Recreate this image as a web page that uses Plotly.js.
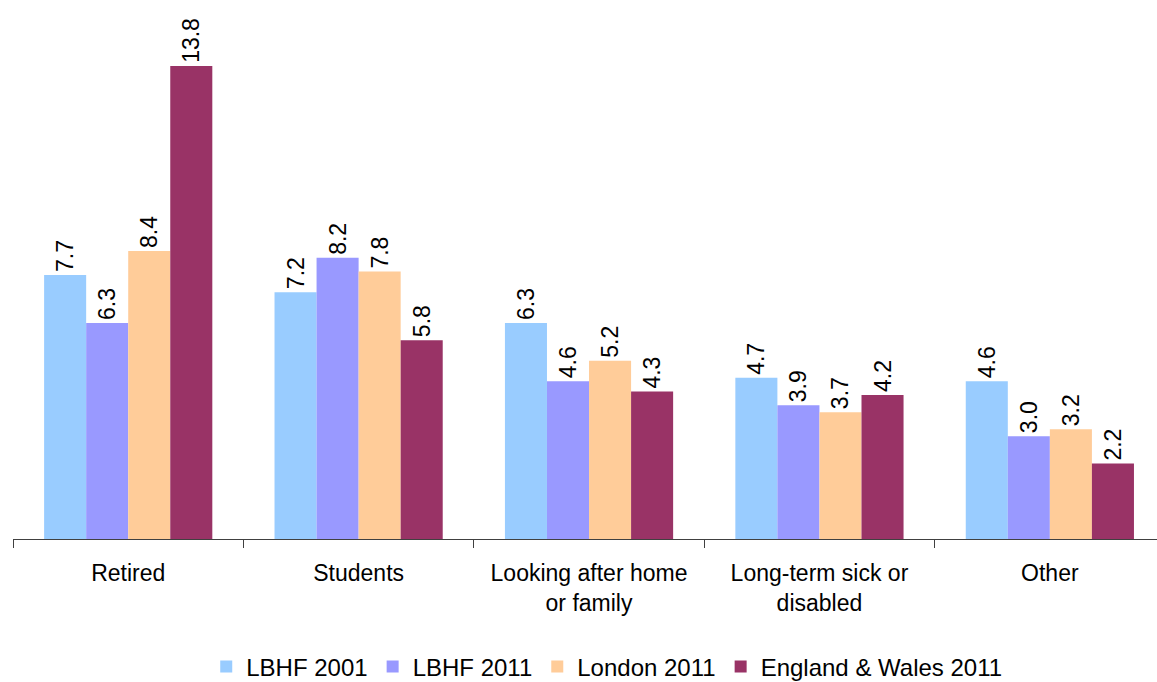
<!DOCTYPE html>
<html><head><meta charset="utf-8">
<script src="https://cdn.plot.ly/plotly-3.0.1.min.js"></script>
<style>body{margin:0;padding:0;background:#fff}#chart{width:1157px;height:682px}</style>
</head><body><div id="chart"></div>
<script>
const categories = ["Retired", "Students", "Looking after home<br>or family", "Long-term sick or<br>disabled", "Other"];
const seriesNames = ["LBHF 2001", "LBHF 2011", "London 2011", "England & Wales 2011"];
const lbhf2001 = [7.7, 7.2, 6.3, 4.7, 4.6];
const lbhf2011 = [6.3, 8.2, 4.6, 3.9, 3.0];
const london2011 = [8.4, 7.8, 5.2, 3.7, 3.2];
const englandWales2011 = [13.8, 5.8, 4.3, 4.2, 2.2];
const colors = ["#99CCFF", "#9999FF", "#FFCC99", "#993366"];

const allSeries = [lbhf2001, lbhf2011, london2011, englandWales2011];
const data = allSeries.map((vals, i) => ({
  type: "bar",
  name: seriesNames[i],
  x: categories,
  y: vals,
  marker: {color: colors[i]},
  text: vals.map(v => v.toFixed(1)),
  textposition: "outside",
  textangle: -90,
  cliponaxis: false,
  constraintext: "none",
  textfont: {family: "Liberation Sans, Arial, sans-serif", size: 23, color: "#000"},
  hoverinfo: "skip"
}));

const layout = {
  width: 1157, height: 682,
  margin: {l: 13, r: 0, t: 10, b: 143, autoexpand: false},
  paper_bgcolor: "#fff", plot_bgcolor: "#fff",
  barmode: "group",
  bargap: 0.27, bargroupgap: 0,
  font: {family: "Liberation Sans, Arial, sans-serif", size: 22, color: "#000"},
  xaxis: {
    type: "category",
    range: [-0.5, 4.465],
    tickson: "boundaries",
    ticks: "outside", ticklen: 8, tickcolor: "#404040", tickwidth: 1,
    showline: true, linecolor: "#404040", linewidth: 1,
    showgrid: false, zeroline: false,
    ticklabelstandoff: 13,
    tickfont: {size: 23, color: "#000"}
  },
  yaxis: {
    range: [0, 15.43],
    visible: false, showgrid: false, zeroline: false
  },
  showlegend: true,
  legend: {
    orientation: "h", x: 0.519, xanchor: "center", y: -0.242, yanchor: "middle",
    font: {size: 24, color: "#000"}, itemwidth: 30, traceorder: "normal"
  }
};
Plotly.newPlot("chart", data, layout, {displayModeBar: false, staticPlot: true});
</script></body></html>
